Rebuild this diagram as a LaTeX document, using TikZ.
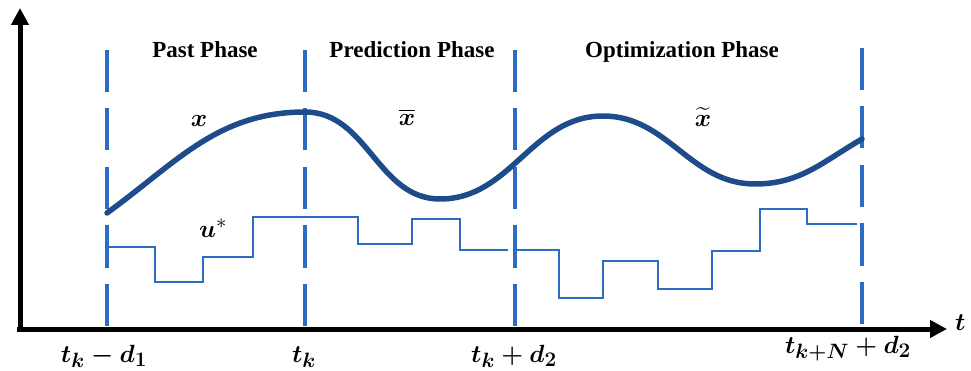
\documentclass[tikz,border=0pt]{standalone}
\usepackage{amsmath}
\usepackage{fontspec}
\setmainfont{Liberation Serif}
\usetikzlibrary{arrows.meta}
\definecolor{phaseblue}{RGB}{44,108,196}
\definecolor{statenavy}{RGB}{30,76,138}
\tikzset{
    axisline/.style={
        -{Triangle[width=17pt,length=17pt]},
        line width=5pt,
        draw=black
    },
    phaseline/.style={draw=phaseblue, line width=4.5pt, dash pattern=on 42pt off 16.5pt},
    stateline/.style={draw=statenavy, line width=5.5pt, line cap=round},
    inputline/.style={draw=phaseblue, line width=2.8pt},
    phaselabel/.style={anchor=base, inner sep=0pt, font=\fontsize{23}{27}\selectfont\bfseries},
    mathlabel/.style={inner sep=0pt, font=\fontsize{32}{36}\selectfont},
    ticklabel/.style={inner sep=0pt, anchor=base, font=\fontsize{29}{33}\selectfont},
}

\begin{document}
\begin{tikzpicture}[x=1pt, y=-1pt]
    \useasboundingbox (0,0) rectangle (971,371);

    \coordinate (origin) at (20,329);
    \coordinate (ytip) at (20,8);
    \coordinate (xstart) at (17,329);
    \coordinate (xtip) at (947,329);
    \draw[axisline] (origin) -- (ytip);
    \draw[axisline] (xstart) -- (xtip);

    \draw[phaseline] (107,50) -- (107,326);
    \draw[phaseline] (305,50) -- (305,326);
    \draw[phaseline] (515,50) -- (515,326);
    \draw[phaseline] (862,48) -- (862,324);

    \draw[stateline] (107,213) to[out=36,in=180] (305,112) to[out=0,in=180] (440,199)
        to[out=0,in=180] (603,116) to[out=0,in=180] (755,184) to[out=0,in=210] (862,139);

    \draw[inputline] (107,247) -| (155,282) -| (203,257) -| (253,217) -| (358,244)
        -| (412,219) -| (460,250) -- (508,250);
    \draw[inputline] (515,250) -| (559,298) -| (603,261) -| (658,289) -| (712,251)
        -| (760,209) -| (807,224) -- (857,224);

    \node[phaselabel] (past) at (205,58) {Past Phase};
    \node[phaselabel] (pred) at (412,58) {Prediction Phase};
    \node[phaselabel] (optim) at (682,58) {Optimization Phase};

    \node[mathlabel] (xpast) at (199,121) {$\boldsymbol{x}$};
    \node[mathlabel] (xpred) at (407,117) {$\overline{\boldsymbol{x}}$};
    \node[mathlabel] (xopt) at (703,117) {$\widetilde{\boldsymbol{x}}$};
    \node[mathlabel] (ustar) at (213,228) {$\boldsymbol{u}^{*}$};

    \node[ticklabel] (tkd1) at (104,362) {$\boldsymbol{t_k - d_1}$};
    \node[ticklabel] (tk) at (304,362) {$\boldsymbol{t_k}$};
    \node[ticklabel] (tkd2) at (514,362) {$\boldsymbol{t_k + d_2}$};
    \node[ticklabel] (tkN) at (848,353) {$\boldsymbol{t_{k+N} + d_2}$};
    \node[ticklabel, anchor=base west] (taxis) at (955,330) {$\boldsymbol{t}$};
\end{tikzpicture}
\end{document}
